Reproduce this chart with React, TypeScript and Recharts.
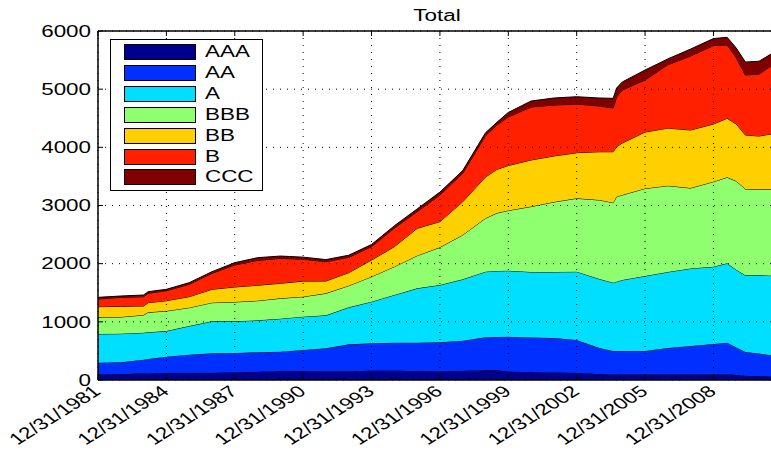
import React from 'react';
import { AreaChart, Area, XAxis, YAxis, CartesianGrid } from 'recharts';

// sample dates (fractional years; 1982.0 == 12/31/1981)
const years = [
  1982.0, 1983.0, 1984.0, 1984.2, 1985.0, 1986.0, 1987.0, 1988.0, 1989.0, 1990.0,
  1991.0, 1992.0, 1993.0, 1994.0, 1995.0, 1996.0, 1997.0, 1998.0, 1999.0, 1999.5,
  2000.0, 2001.0, 2002.0, 2003.0, 2004.0, 2004.6, 2004.75, 2005.0, 2006.0, 2007.0,
  2008.0, 2009.0, 2009.6, 2010.0, 2010.4, 2011.0, 2011.7,
];

const aaa = [98, 103, 115, 118, 126, 126, 126, 132, 143, 155, 155, 150, 150, 165, 165, 155, 150, 160, 172, 170, 146, 138, 129, 125, 103, 98, 98, 98, 98, 98, 98, 98, 98, 90, 75, 69, 57];
const aa = [200, 201, 235, 242, 275, 309, 332, 332, 333, 332, 361, 394, 463, 465, 476, 486, 498, 516, 562, 570, 598, 593, 593, 563, 447, 401, 401, 401, 401, 452, 486, 521, 543, 470, 406, 387, 356];
const a = [493, 492, 463, 460, 441, 493, 551, 545, 550, 567, 573, 568, 636, 716, 820, 935, 985, 1055, 1128, 1135, 1135, 1126, 1135, 1174, 1186, 1174, 1191, 1220, 1289, 1307, 1333, 1329, 1365, 1336, 1319, 1349, 1377];
const bbb = [287, 287, 304, 343, 344, 315, 320, 332, 337, 350, 343, 378, 372, 430, 487, 561, 648, 762, 918, 995, 1035, 1125, 1203, 1261, 1358, 1375, 1461, 1461, 1504, 1483, 1383, 1461, 1478, 1525, 1483, 1473, 1488];
const bb = [182, 183, 155, 166, 177, 189, 230, 258, 265, 258, 268, 212, 224, 287, 344, 470, 441, 572, 710, 750, 773, 800, 791, 784, 830, 876, 860, 894, 971, 990, 998, 992, 1015, 980, 929, 916, 963];
const b = [132, 155, 160, 161, 172, 213, 275, 378, 429, 429, 377, 332, 264, 229, 318, 286, 458, 487, 710, 763, 834, 911, 876, 837, 786, 752, 854, 911, 894, 1090, 1272, 1349, 1260, 1139, 1031, 1066, 1203];
const ccc = [29, 23, 29, 28, 24, 28, 28, 40, 46, 40, 35, 36, 36, 38, 40, 47, 50, 48, 50, 47, 79, 103, 121, 126, 138, 166, 154, 138, 172, 100, 120, 120, 132, 167, 223, 220, 200];

const xTicks = [1982, 1985, 1988, 1991, 1994, 1997, 2000, 2003, 2006, 2009];
const xTickLabels = [
  '12/31/1981', '12/31/1984', '12/31/1987', '12/31/1990', '12/31/1993',
  '12/31/1996', '12/31/1999', '12/31/2002', '12/31/2005', '12/31/2008',
];
const yTicks = [0, 1000, 2000, 3000, 4000, 5000, 6000];

const series = [
  { key: 'AAA', values: aaa, color: '#00008f' },
  { key: 'AA', values: aa, color: '#0030ff' },
  { key: 'A', values: a, color: '#00dfff' },
  { key: 'BBB', values: bbb, color: '#8fff70' },
  { key: 'BB', values: bb, color: '#ffd000' },
  { key: 'B', values: b, color: '#ff2000' },
  { key: 'CCC', values: ccc, color: '#800000' },
];

const data = years.map((t, i) => {
  const row: Record<string, number> = { t };
  series.forEach((s) => (row[s.key] = s.values[i]));
  return row;
});

const FONT = '"Liberation Sans", Arial, Helvetica, sans-serif';
const SX = 1.4; // picture is stretched horizontally

const YTick = ({ x, y, payload }: any) => (
  <g>
    <line x1={x} y1={y} x2={x + 5} y2={y} stroke="#000" />
    <text
      transform={`translate(${x - 7},${y}) scale(${SX},1)`}
      textAnchor="end"
      dominantBaseline="central"
      fontSize={16}
      fontFamily={FONT}
      fill="#000"
    >
      {payload.value}
    </text>
  </g>
);

const XTick = ({ x, y, payload }: any) => {
  const i = xTicks.indexOf(payload.value);
  return (
    <g>
      <line x1={x} y1={y} x2={x} y2={y - 5} stroke="#000" />
      <text
        transform={`translate(${x + 4},${y + 13}) scale(${SX},1) rotate(-41)`}
        textAnchor="end"
        fontSize={16}
        fontFamily={FONT}
        fill="#000"
      >
        {xTickLabels[i]}
      </text>
    </g>
  );
};

const TopTick = ({ x, y }: any) => <line x1={x} y1={y} x2={x} y2={y + 5} stroke="#000" />;

function LegendBox() {
  return (
    <div
      style={{
        position: 'absolute',
        left: 110,
        top: 39,
        width: 153,
        height: 152,
        boxSizing: 'border-box',
        border: '1px solid #000',
        background: '#fff',
      }}
    >
      {series.map((s, i) => (
        <div key={s.key} style={{ position: 'absolute', left: 13, top: 4 + i * 20.9, height: 15 }}>
          <div
            style={{
              position: 'absolute',
              left: 0,
              top: 0,
              width: 72,
              height: 16,
              boxSizing: 'border-box',
              border: '1px solid #000',
              background: s.color,
            }}
          />
          <div
            style={{
              position: 'absolute',
              left: 81,
              top: 0,
              height: 16,
              lineHeight: '16px',
              fontSize: 16,
              fontFamily: FONT,
              whiteSpace: 'nowrap',
              transform: `scaleX(${SX})`,
              transformOrigin: 'left center',
            }}
          >
            {s.key}
          </div>
        </div>
      ))}
    </div>
  );
}

export default function App() {
  return (
    <div
      style={{
        position: 'absolute',
        left: 0,
        top: 0,
        width: 771,
        height: 453,
        overflow: 'hidden',
        background: '#fff',
      }}
    >
      <AreaChart width={780} height={453} data={data} margin={{ top: 0, right: 5, bottom: 0, left: 0 }}>
        <XAxis
          dataKey="t"
          type="number"
          domain={[1982, 2011.7]}
          ticks={xTicks}
          allowDataOverflow
          height={73}
          tickSize={0}
          tickMargin={0}
          tick={<XTick />}
          stroke="#000"
          strokeWidth={1.5}
        />
        <XAxis
          xAxisId="top"
          orientation="top"
          dataKey="t"
          type="number"
          domain={[1982, 2011.7]}
          ticks={xTicks}
          height={31}
          tickSize={0}
          tickMargin={0}
          tick={<TopTick />}
          stroke="#000"
          strokeWidth={1.5}
        />
        <YAxis
          type="number"
          domain={[0, 6000]}
          ticks={yTicks}
          width={98}
          tickSize={0}
          tickMargin={0}
          tick={<YTick />}
          stroke="#000"
          strokeWidth={1.5}
        />
        {series.map((s) => (
          <Area
            key={s.key}
            type="linear"
            dataKey={s.key}
            stackId="1"
            fill={s.color}
            fillOpacity={1}
            stroke="#000"
            strokeWidth={1}
            dot={false}
            activeDot={false}
            isAnimationActive={false}
          />
        ))}
        <CartesianGrid stroke="#000" strokeDasharray="1 6" zIndex={1000} />
      </AreaChart>
      <div
        style={{
          position: 'absolute',
          left: 437,
          top: 8,
          fontSize: 16,
          lineHeight: '16px',
          fontFamily: FONT,
          transform: `translateX(-50%) scaleX(${SX})`,
          whiteSpace: 'nowrap',
        }}
      >
        Total
      </div>
      <LegendBox />
    </div>
  );
}
